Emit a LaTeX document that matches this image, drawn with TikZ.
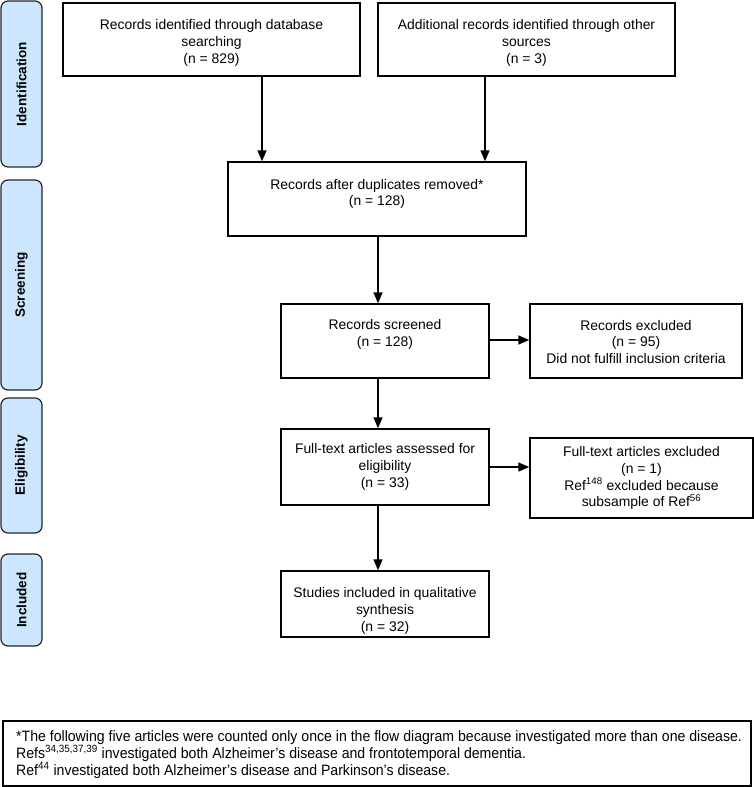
\documentclass[tikz,border=0pt]{standalone}
\usepackage{fontspec}
\setmainfont{Liberation Sans}
\newfontfamily\narrowfont[FakeStretch=0.94]{Liberation Sans}
\usetikzlibrary{arrows.meta}
\definecolor{sidefill}{HTML}{CCE6FF}
\begin{document}
\begin{tikzpicture}[x=1pt,y=-1pt,
  box/.style={draw=black, line width=1.4pt, fill=white, inner sep=0pt},
  side/.style={draw=black!85, line width=1.2pt, fill=sidefill, rounded corners=7pt, inner sep=0pt},
  sidetext/.style={rotate=90, inner sep=0pt, font=\fontsize{13.5}{16}\selectfont\bfseries},
  txt/.style={align=center, inner sep=0pt, font=\fontsize{13.9}{16.8}\selectfont},
  arr/.style={line width=1.4pt, -{Triangle[length=11pt,width=9pt]}}]
\useasboundingbox (0,0) rectangle (754,787);
% side bars
\node[side, minimum width=41pt, minimum height=166pt] (s1) at (21.5,84) {};
\node[sidetext] (s1t) at (s1.center) {Identification};
\node[side, minimum width=41pt, minimum height=210pt] (s2) at (21.5,285) {};
\node[sidetext] (s2t) at (s2.center) {Screening};
\node[side, minimum width=41pt, minimum height=135pt] (s3) at (21.5,465.5) {};
\node[sidetext] (s3t) at (s3.center) {Eligibility};
\node[side, minimum width=41pt, minimum height=92pt] (s4) at (21.5,600) {};
\node[sidetext] (s4t) at (s4.center) {Included};
% boxes
\node[box, minimum width=297pt, minimum height=73pt] (b1) at (211.5,39.5) {};
\node[txt] (b1t) at (211.5,43) {Records identified through database\\searching\\(n = 829)};
\node[box, minimum width=297pt, minimum height=73pt] (b2) at (526.5,39.5) {};
\node[txt] (b2t) at (526.5,43) {Additional records identified through other\\sources\\(n = 3)};
\node[box, minimum width=298pt, minimum height=74pt] (b3) at (377,199) {};
\node[txt] (b3t) at (377,194) {Records after duplicates removed*\\(n = 128)};
\node[box, minimum width=208pt, minimum height=74pt] (b4) at (385,341) {};
\node[txt] (b4t) at (385,334.5) {Records screened\\(n = 128)};
\node[box, minimum width=212pt, minimum height=74pt] (b5) at (636,341) {};
\node[txt] (b5t) at (636,342) {Records excluded\\(n = 95)\\Did not fulfill inclusion criteria};
\node[box, minimum width=208pt, minimum height=76pt] (b6) at (385,467) {};
\node[txt] (b6t) at (385,467) {Full-text articles assessed for\\eligibility\\(n = 33)};
\node[box, minimum width=223pt, minimum height=80pt] (b7) at (641.5,478) {};
\node[txt] (b7t) at (641.5,478) {Full-text articles excluded\\(n = 1)\\Ref\textsuperscript{148} excluded because\\subsample of Ref\textsuperscript{56}};
\node[box, minimum width=208pt, minimum height=66pt] (b8) at (385,604) {};
\node[txt] (b8t) at (385,611) {Studies included in qualitative\\synthesis\\(n = 32)};
% footnote
\node[box, line width=1.2pt, minimum width=748pt, minimum height=65pt] (fn) at (377,753.5) {};
\node[anchor=north west, align=left, inner sep=0pt, font=\narrowfont\fontsize{15}{17}\selectfont] (fnt) at (16,730)
 {*The following five articles were counted only once in the flow diagram because investigated more than one disease.\\
  Refs\textsuperscript{34,35,37,39} investigated both Alzheimer’s disease and frontotemporal dementia.\\
  Ref\textsuperscript{44} investigated both Alzheimer’s disease and Parkinson’s disease.};
% connectors
\draw[arr] (262,0 |- b1.south) -- (262,0 |- b3.north);
\draw[arr] (485,0 |- b2.south) -- (485,0 |- b3.north);
\draw[arr] (378,0 |- b3.south) -- (378,0 |- b4.north);
\draw[arr] (b4.east |- 0,340) -- (b5.west |- 0,340);
\draw[arr] (378,0 |- b4.south) -- (378,0 |- b6.north);
\draw[arr] (b6.east |- 0,467) -- (b7.west |- 0,467);
\draw[arr] (378,0 |- b6.south) -- (378,0 |- b8.north);
\end{tikzpicture}
\end{document}
